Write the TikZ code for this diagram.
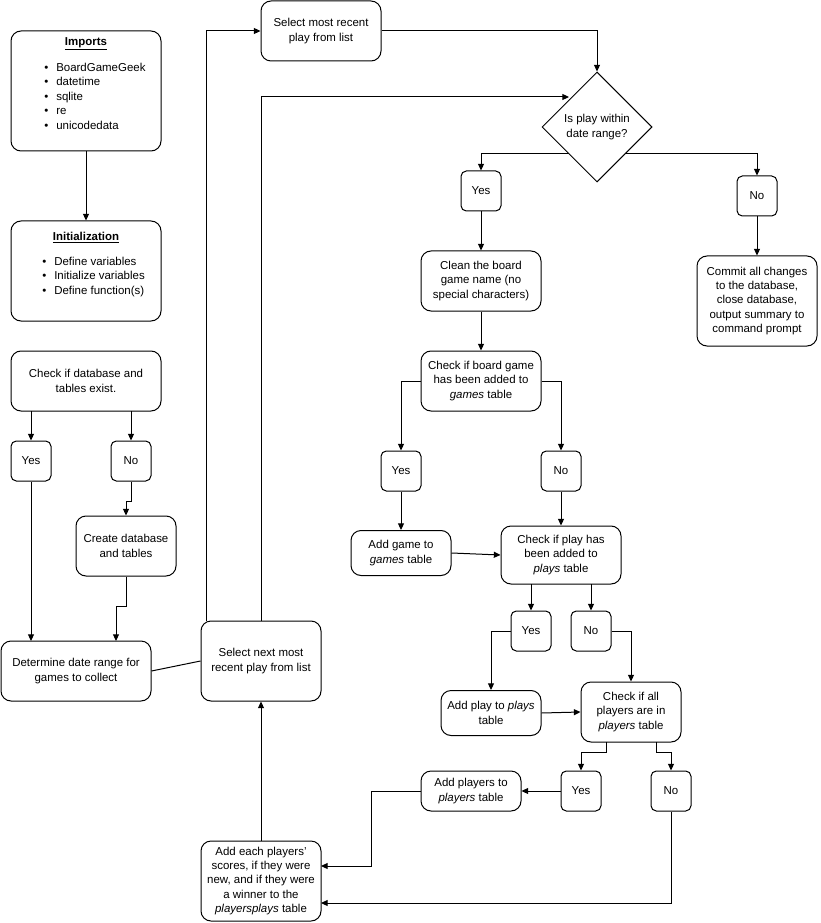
\documentclass[tikz,border=0pt]{standalone}
\usepackage{fontspec}
\setmainfont{Liberation Sans}
\usetikzlibrary{shapes.geometric,arrows.meta}
\begin{document}
\begin{tikzpicture}[x=0.75pt,y=-0.75pt,
  font=\fontsize{8.6}{10.8}\selectfont,
  bx/.style 2 args={draw,rounded corners=7.5pt,minimum width=#1*0.75pt,minimum height=#2*0.75pt,align=center,inner sep=1pt,line width=0.75pt},
  yn/.style={draw,rounded corners=4pt,minimum width=30pt,minimum height=30pt,inner sep=0pt,line width=0.75pt},
  ar/.style={-{Triangle[length=5pt,width=4.5pt]},line width=0.75pt},
  ln/.style={line width=0.75pt}]
\useasboundingbox (0,0) rectangle (820,923);
% left column
\node[bx={150}{120}] (imp) at (86,91) {};
\node[font=\fontsize{8.6}{10.8}\selectfont\bfseries] (impt) at (86,44) {\underline{Imports}};
\node[anchor=north west,align=left,inner sep=0pt] (impl) at (44,63) {\textbullet\hspace{6pt}BoardGameGeek\\\textbullet\hspace{6pt}datetime\\\textbullet\hspace{6pt}sqlite\\\textbullet\hspace{6pt}re\\\textbullet\hspace{6pt}unicodedata};
\node[bx={150}{100}] (ini) at (86,271) {};
\node[font=\fontsize{8.6}{10.8}\selectfont\bfseries] (init) at (86,238) {\underline{Initialization}};
\node[anchor=north west,align=left,inner sep=0pt] (inil) at (42,257) {\textbullet\hspace{6pt}Define variables\\\textbullet\hspace{6pt}Initialize variables\\\textbullet\hspace{6pt}Define function(s)};
\node[bx={150}{60}] (chk) at (86,381) {Check if database and\\tables exist.};
\node[yn] (y1) at (31,461) {Yes};
\node[yn] (n1) at (131,461) {No};
\node[bx={100}{60}] (cre) at (126,546) {Create database\\and tables};
\node[bx={150}{60}] (det) at (76,671) {Determine date range for\\games to collect};
\node[bx={120}{80}] (sn) at (261,661) {Select next most\\recent play from list};
\node[bx={120}{60}] (sm) at (321,31) {Select most recent\\play from list};
\node[bx={120}{80}] (ae) at (261,881) {Add each players'\\scores, if they were\\new, and if they were\\a winner to the\\\textit{playersplays} table};
% right part
\node[draw,diamond,minimum width=82.5pt,minimum height=82.5pt,inner sep=0pt,align=center,line width=0.75pt] (dia) at (597,127) {Is play within\\date range?};
\node[yn] (y2) at (481,191) {Yes};
\node[yn] (n2) at (757,196) {No};
\node[bx={120}{90}] (com) at (757,301) {Commit all changes\\to the database,\\close database,\\output summary to\\command prompt};
\node[bx={120}{60}] (cln) at (481,281) {Clean the board\\game name (no\\special characters)};
\node[bx={120}{60}] (cbg) at (481,381) {Check if board game\\has been added to\\\textit{games} table};
\node[yn] (y3) at (401,471) {Yes};
\node[yn] (n3) at (561,471) {No};
\node[bx={100}{45}] (ag) at (401,553) {Add game to\\\textit{games} table};
\node[bx={120}{58}] (cp) at (561,555) {Check if play has\\been added to\\\textit{plays} table};
\node[yn] (y4) at (531,631) {Yes};
\node[yn] (n4) at (591,631) {No};
\node[bx={100}{45}] (ap) at (491,713) {Add play to \textit{plays}\\table};
\node[bx={100}{60}] (cap) at (631,712) {Check if all\\players are in\\\textit{players} table};
\node[yn] (y5) at (581,791) {Yes};
\node[yn] (n5) at (671,791) {No};
\node[bx={100}{40}] (apl) at (471,791) {Add players to\\\textit{players} table};
% connectors
\draw[ar] (imp.south) -- (ini.north);
\draw[ar] (31,411) -- (y1.north);
\draw[ar] (131,411) -- (n1.north);
\draw[ar] (y1.south) -- (31,641);
\draw[ar] (n1.south) -- (131,501) -- (126,501) -- (cre.north);
\draw[ar] (cre.south) -- (126,606) -- (116,606) -- (116,641);
\draw[ln] (det.east) -- (sn.west);
\draw[ar] (206,621) -- (206,31) -- (sm.west);
\draw[ar] (sn.north) -- (261,97) -- (569,97);
\draw[ar] (sm.east) -- (597,31) -- (dia.north);
\draw[ar] (569,154) -- (481,154) -- (y2.north);
\draw[ar] (625,154) -- (757,154) -- (n2.north);
\draw[ar] (y2.south) -- (cln.north);
\draw[ar] (n2.south) -- (com.north);
\draw[ar] (cln.south) -- (cbg.north);
\draw[ar] (cbg.west) -- (401,381) -- (y3.north);
\draw[ar] (cbg.east) -- (561,381) -- (n3.north);
\draw[ar] (y3.south) -- (ag.north);
\draw[ar] (ag.east) -- (cp.west);
\draw[ar] (n3.south) -- (cp.north);
\draw[ar] (531,584) -- (y4.north);
\draw[ar] (591,584) -- (n4.north);
\draw[ar] (y4.west) -- (491,631) -- (ap.north);
\draw[ar] (n4.east) -- (631,631) -- (cap.north);
\draw[ar] (ap.east) -- (cap.west);
\draw[ar] (606,742) -- (606,752) -- (581,752) -- (y5.north);
\draw[ar] (656,742) -- (656,752) -- (671,752) -- (n5.north);
\draw[ar] (y5.west) -- (apl.east);
\draw[ar] (apl.west) -- (371,791) -- (371,866) -- (321,866);
\draw[ar] (n5.south) -- (671,903) -- (321,903);
\draw[ar] (ae.north) -- (sn.south);
\end{tikzpicture}
\end{document}
